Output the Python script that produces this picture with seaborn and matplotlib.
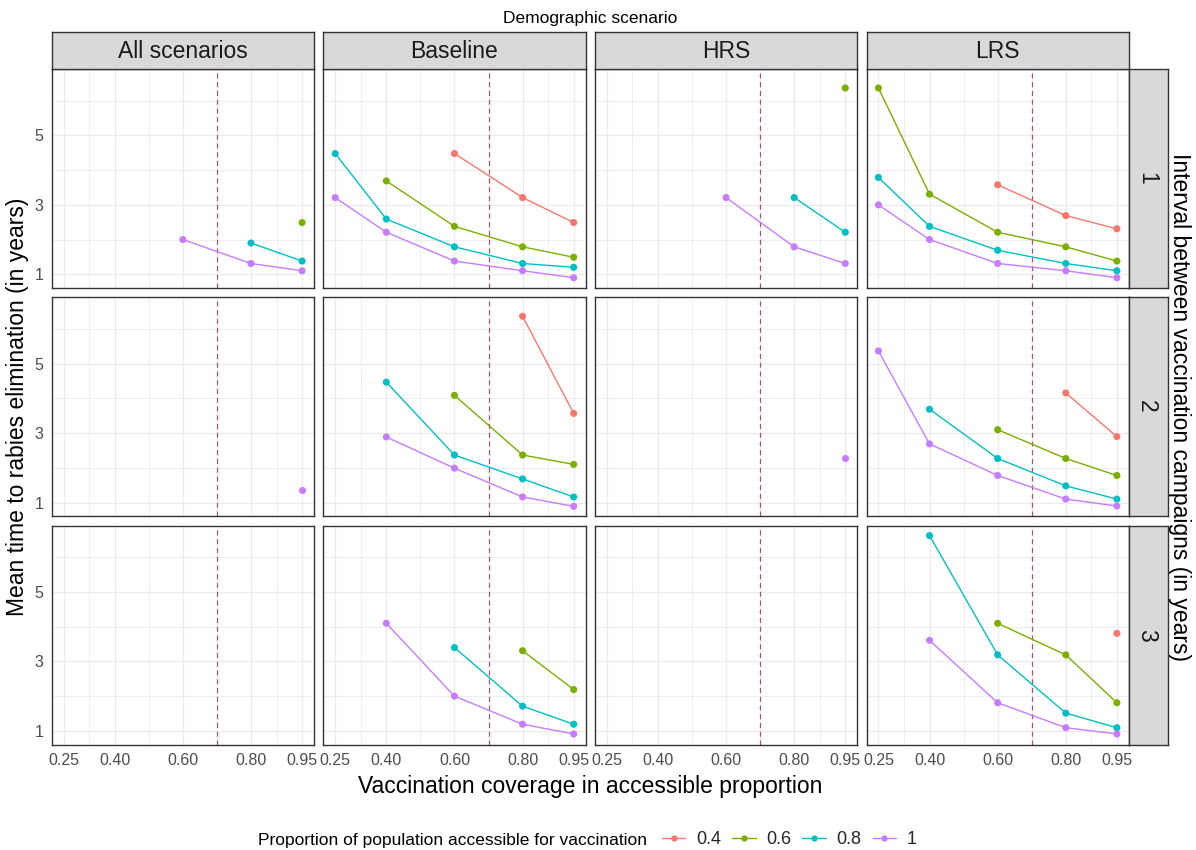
import numpy as np
import pandas as pd
import matplotlib
matplotlib.use("Agg")
import matplotlib.pyplot as plt
import seaborn as sns
from matplotlib.lines import Line2D

# ---- data ----
coverage = [0.25, 0.40, 0.60, 0.80, 0.95]
scenarios = ["All scenarios", "Baseline", "HRS", "LRS"]
intervals = [1, 2, 3]
proportions = ["0.4", "0.6", "0.8", "1"]
colors = ["#F8766D", "#7CAE00", "#00BFC4", "#C77CFF"]

n = np.nan
# rows = interval 1, 2, 3 ; columns follow `coverage`
all_04 = [[n, n, n, n, n], [n, n, n, n, n], [n, n, n, n, n]]
all_06 = [[n, n, n, n, 2.49], [n, n, n, n, n], [n, n, n, n, n]]
all_08 = [[n, n, n, 1.90, 1.38], [n, n, n, n, n], [n, n, n, n, n]]
all_1 = [[n, n, 2.00, 1.31, 1.10], [n, n, n, n, 1.37], [n, n, n, n, n]]

base_04 = [[n, n, 4.48, 3.21, 2.49], [n, n, n, 6.37, 3.57], [n, n, n, n, n]]
base_06 = [[n, 3.69, 2.38, 1.79, 1.49], [n, n, 4.09, 2.37, 2.10], [n, n, n, 3.31, 2.19]]
base_08 = [[4.48, 2.59, 1.79, 1.31, 1.20], [n, 4.47, 2.37, 1.68, 1.16], [n, n, 3.40, 1.71, 1.19]]
base_1 = [[3.21, 2.21, 1.38, 1.10, 0.90], [n, 2.89, 1.99, 1.16, 0.89], [n, 4.10, 2.00, 1.19, 0.91]]

hrs_04 = [[n, n, n, n, n], [n, n, n, n, n], [n, n, n, n, n]]
hrs_06 = [[n, n, n, n, 6.37], [n, n, n, n, n], [n, n, n, n, n]]
hrs_08 = [[n, n, n, 3.21, 2.21], [n, n, n, n, n], [n, n, n, n, n]]
hrs_1 = [[n, n, 3.21, 1.79, 1.31], [n, n, n, n, 2.27], [n, n, n, n, n]]

lrs_04 = [[n, n, 3.58, 2.69, 2.31], [n, n, n, 4.16, 2.90], [n, n, n, n, 3.81]]
lrs_06 = [[6.37, 3.31, 2.21, 1.79, 1.38], [n, n, 3.10, 2.27, 1.78], [n, n, 4.10, 3.19, 1.81]]
lrs_08 = [[3.79, 2.38, 1.69, 1.31, 1.10], [n, 3.69, 2.27, 1.48, 1.10], [n, 6.63, 3.19, 1.51, 1.09]]
lrs_1 = [[3.00, 2.00, 1.31, 1.10, 0.90], [5.37, 2.69, 1.78, 1.10, 0.90], [n, 3.61, 1.81, 1.09, 0.91]]

values = {
    "All scenarios": [all_04, all_06, all_08, all_1],
    "Baseline": [base_04, base_06, base_08, base_1],
    "HRS": [hrs_04, hrs_06, hrs_08, hrs_1],
    "LRS": [lrs_04, lrs_06, lrs_08, lrs_1],
}

records = []
for sc in scenarios:
    for prop, mat in zip(proportions, values[sc]):
        for iv, row in zip(intervals, mat):
            for cov, t in zip(coverage, row):
                if not np.isnan(t):
                    records.append({"scenario": sc, "interval": iv, "proportion": prop,
                                    "coverage": cov, "time": t})
df = pd.DataFrame(records)
palette = dict(zip(proportions, colors))

# ---- style ----
sns.set_style("white")
plt.rcParams["font.family"] = ["Liberation Sans", "DejaVu Sans"]

W, H = 1196, 850
fig = plt.figure(figsize=(W / 100, H / 100), dpi=100)


def rect(x0, y0, w, h):
    return [x0 / W, 1 - (y0 + h) / H, w / W, h / H]


left, top = 51.7, 69.0
pw, ph, gap = 262.3, 219.0, 9.3
strip_h, strip_w = 37.3, 39.0
border = "#333333"

all_t = df["time"]
ypad = (all_t.max() - all_t.min()) * 0.05
ylim = (all_t.min() - ypad, all_t.max() + ypad)
xlim = (0.25 - 0.035, 0.95 + 0.035)

for r, iv in enumerate(intervals):
    for c, sc in enumerate(scenarios):
        x0 = left + c * (pw + gap)
        y0 = top + r * (ph + gap)
        ax = fig.add_axes(rect(x0, y0, pw, ph))
        ax.set_facecolor("white")
        ax.set_xlim(*xlim)
        ax.set_ylim(*ylim)
        ax.set_xticks(coverage)
        ax.set_xticks([0.325, 0.5, 0.7, 0.875], minor=True)
        ax.set_yticks([1, 3, 5])
        ax.set_yticks([2, 4, 6], minor=True)
        ax.grid(which="major", color="#EBEBEB", lw=0.9)
        ax.grid(which="minor", color="#EBEBEB", lw=0.6)
        ax.set_axisbelow(True)

        ax.axvline(0.7, color="#A8506F", lw=0.9, ls=(0, (4, 3)), zorder=1.5)

        sub = df[(df["scenario"] == sc) & (df["interval"] == iv)]
        if len(sub):
            sns.lineplot(data=sub, x="coverage", y="time", hue="proportion",
                         hue_order=proportions, palette=palette, ax=ax,
                         legend=False, errorbar=None, lw=1.0, zorder=2)
            sns.scatterplot(data=sub, x="coverage", y="time", hue="proportion",
                            hue_order=proportions, palette=palette, ax=ax,
                            legend=False, s=26, linewidth=0, zorder=3)
        ax.set_xlabel("")
        ax.set_ylabel("")

        for sp in ax.spines.values():
            sp.set_color(border)
            sp.set_linewidth(1.0)
        ax.tick_params(which="minor", length=0)
        ax.tick_params(which="major", length=3.8, width=0.8, color=border,
                       labelsize=11.5, labelcolor="#4D4D4D", pad=2.2)
        ax.set_xticklabels(["0.25", "0.40", "0.60", "0.80", "0.95"])
        ax.set_yticklabels(["1", "3", "5"])
        if r < len(intervals) - 1:
            ax.tick_params(axis="x", length=0, labelbottom=False)
        if c > 0:
            ax.tick_params(axis="y", length=0, labelleft=False)

        # top strips
        if r == 0:
            sax = fig.add_axes(rect(x0, top - strip_h, pw, strip_h))
            sax.set_facecolor("#D9D9D9")
            sax.set_xticks([])
            sax.set_yticks([])
            for sp in sax.spines.values():
                sp.set_color(border)
                sp.set_linewidth(1.0)
            sax.text(0.5, 0.47, sc, ha="center", va="center", fontsize=16.5,
                     color="#1A1A1A", transform=sax.transAxes)
        # right strips
        if c == len(scenarios) - 1:
            sax = fig.add_axes(rect(x0 + pw, y0, strip_w, ph))
            sax.set_facecolor("#D9D9D9")
            sax.set_xticks([])
            sax.set_yticks([])
            for sp in sax.spines.values():
                sp.set_color(border)
                sp.set_linewidth(1.0)
            sax.text(0.45, 0.5, str(iv), ha="center", va="center", fontsize=16.5,
                     color="#1A1A1A", rotation=-90, transform=sax.transAxes)

panels_mid_x = (left + left + 4 * pw + 3 * gap) / 2
panels_mid_y = (top + top + 3 * ph + 2 * gap) / 2

fig.text(panels_mid_x / W, 1 - 18 / H, "Demographic scenario", ha="center",
         va="center", fontsize=12.5, color="black")
fig.text(panels_mid_x / W, 1 - 786 / H, "Vaccination coverage in accessible proportion",
         ha="center", va="center", fontsize=16.5, color="black")
fig.text(18 / W, 1 - panels_mid_y / H, "Mean time to rabies elimination (in years)",
         ha="center", va="center", rotation=90, fontsize=16.5, color="black")
fig.text(1180 / W, 1 - panels_mid_y / H, "Interval between vaccination campaigns (in years)",
         ha="center", va="center", rotation=-90, fontsize=16.5, color="black")

# legend at the bottom
fig.text(258 / W, 1 - 840 / H, "Proportion of population accessible for vaccination",
         ha="left", va="center", fontsize=12.5, color="black")
handles = [Line2D([0], [0], color=col, lw=1.0, marker="o", markersize=4.5,
                  markeredgewidth=0) for col in colors]
fig.legend(handles, proportions, ncol=4, loc="center left",
           bbox_to_anchor=(662 / W, 1 - 840 / H), frameon=False, fontsize=13,
           handlelength=1.3, handletextpad=0.6, columnspacing=0.6,
           borderpad=0, borderaxespad=0)

fig.savefig("out.png", dpi=100, facecolor="white")
